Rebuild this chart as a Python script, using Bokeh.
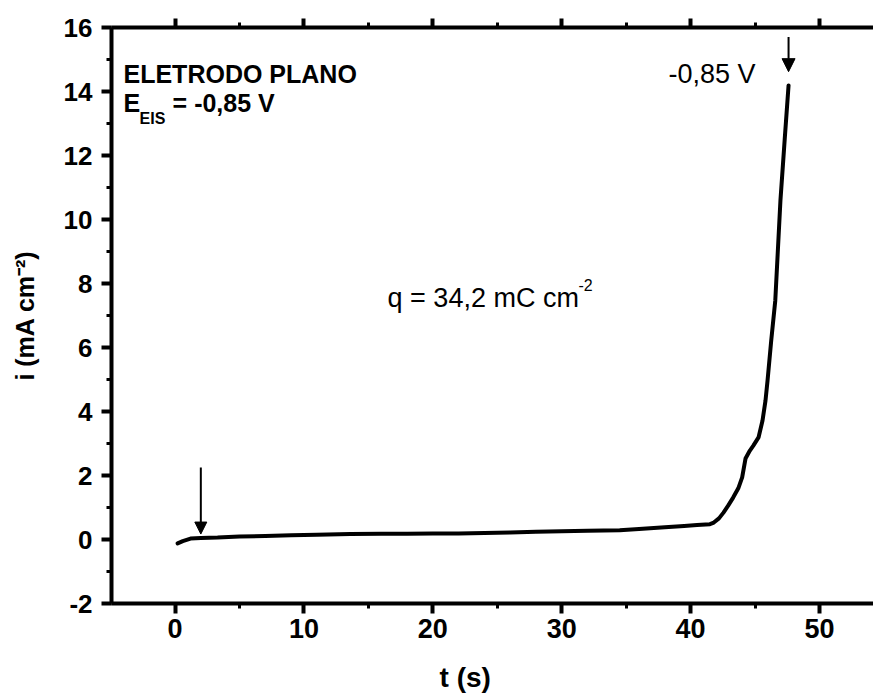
import math
from bokeh.plotting import figure
from bokeh.models import (Range1d, LinearAxis, SingleIntervalTicker, Label, Arrow,
                          NormalHead, CustomJSTickFormatter)
from bokeh.embed import file_html
from bokeh.resources import INLINE

# ---- data ----
t_s = [0.2, 0.6, 1.2, 2.0, 3.3, 5, 7, 9, 11, 13.6, 16, 18, 20, 22, 24, 26, 28, 30, 32,
       34.5, 36, 38, 39.5, 40.5, 41.5, 41.8, 42.2, 42.55, 42.9, 43.3, 43.7, 44.0, 44.26,
       44.6, 44.88, 45.27, 45.58, 45.81, 45.97, 46.25, 46.57, 46.97, 47.3, 47.6]
i_ma = [-0.12, -0.05, 0.03, 0.05, 0.06, 0.09, 0.11, 0.13, 0.15, 0.17, 0.18, 0.18, 0.19,
        0.19, 0.2, 0.22, 0.24, 0.26, 0.27, 0.29, 0.33, 0.38, 0.42, 0.45, 0.48, 0.53, 0.66,
        0.84, 1.05, 1.31, 1.6, 1.94, 2.53, 2.78, 2.94, 3.19, 3.72, 4.34, 4.97, 6.2, 7.47,
        10.6, 12.5, 14.19]

x_range = (-4.93, 54.19)
y_range = (-2.0, 16.0)
x_tick_step = 10
y_tick_step = 2

# arrows: (x, y_start, y_end)
arrow1 = (2.0, 2.25, 0.17)
arrow2 = (47.6, 15.7, 14.62)

title1 = "ELETRODO PLANO"
title2_main = "E"
title2_sub = "EIS"
title2_rest = "= -0,85 V"
charge_text = "q = 34,2 mC cm"
sup_text = "-2"
pot_text = "-0,85 V"
xlabel = "t (s)"
ylabel = "i (mA cm\u207B\u00B2)"

FONT = "Liberation Sans"

p = figure(width=873, height=695, x_range=Range1d(*x_range), y_range=Range1d(*y_range),
           output_backend="svg", toolbar_location=None, title=None,
           min_border_left=111, min_border_right=0, min_border_top=27, min_border_bottom=92)
p.outline_line_color = None
p.xgrid.visible = False
p.ygrid.visible = False
p.background_fill_color = "white"
p.border_fill_color = "white"

def style_axis(ax, tick_out, minor_out, font_size, standoff):
    ax.axis_line_width = 4
    ax.axis_line_color = "black"
    ax.major_tick_line_width = 4
    ax.minor_tick_line_width = 3
    ax.major_tick_in = 0
    ax.minor_tick_in = 0
    ax.major_tick_out = tick_out
    ax.minor_tick_out = minor_out
    ax.major_label_text_font = FONT
    ax.major_label_text_font_style = "bold"
    ax.major_label_text_font_size = font_size
    ax.major_label_text_color = "black"
    ax.major_label_standoff = standoff
    ax.axis_label_text_font = FONT
    ax.axis_label_text_font_style = "bold"
    ax.axis_label_text_color = "black"

xax = p.xaxis[0]
xax.ticker = SingleIntervalTicker(interval=x_tick_step, num_minor_ticks=2)
xax.formatter = CustomJSTickFormatter(code="return tick.toFixed(0)")
style_axis(xax, 10, 5, "27px", 5)
# trailing no-break spaces shift the centred title left, as in the reference
xax.axis_label = xlabel + "\u00A0" * 7
xax.axis_label_text_font_size = "28px"
xax.axis_label_standoff = 21

yax = p.yaxis[0]
yax.ticker = SingleIntervalTicker(interval=y_tick_step, num_minor_ticks=2)
yax.formatter = CustomJSTickFormatter(code="return tick.toFixed(0)")
style_axis(yax, 10, 5, "26px", 9)
yax.axis_label = ylabel
yax.axis_label_text_font_size = "25px"
yax.axis_label_standoff = 22

top = LinearAxis(ticker=SingleIntervalTicker(interval=x_tick_step, num_minor_ticks=2),
                 formatter=CustomJSTickFormatter(code="return ''"))
style_axis(top, 9, 5, "2px", 0)
p.add_layout(top, "above")

p.line(t_s, i_ma, line_width=4, line_color="black", line_join="round", line_cap="round")

for (ax_, ys, ye), hs in ((arrow1, 12), (arrow2, 13)):
    p.add_layout(Arrow(end=NormalHead(size=hs, fill_color="black", line_color="black", line_width=1),
                       x_start=ax_, y_start=ys, x_end=ax_, y_end=ye,
                       line_width=2, line_color="black"))

def lab(x, y, text, size, bold=False):
    l = Label(x=x, y=y, text=text, text_font=FONT, text_font_size=size,
              text_font_style="bold" if bold else "normal", text_color="black",
              text_align="left", text_baseline="alphabetic")
    p.add_layout(l)

# annotations (data coordinates)
lab(-4.0, 14.56, title1, "25px", True)
lab(-4.0, 13.63, title2_main, "25px", True)
lab(-2.75, 13.16, title2_sub, "16px", True)
lab(-0.19, 13.63, title2_rest, "25px", True)
lab(16.49, 7.56, charge_text, "27px")
lab(31.3, 7.95, sup_text, "16px")
lab(38.29, 14.56, pot_text, "27px")

open("out.html", "w").write(file_html(p, INLINE))
